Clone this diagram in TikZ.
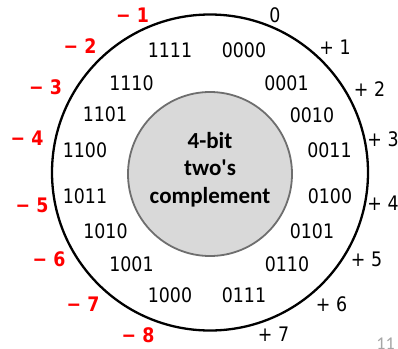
\documentclass[tikz,border=0pt]{standalone}
\usepackage{fontspec}
\setmainfont{Carlito}
\newfontfamily\numfont[FakeStretch=0.87]{DejaVu Sans}
\usetikzlibrary{positioning}
\definecolor{discgray}{HTML}{D9D9D9}
\definecolor{rimgray}{HTML}{6E6E6E}
\definecolor{pagegray}{HTML}{A6A6A6}

\begin{document}
\begin{tikzpicture}[
  x=1pt, y=-1pt,
  bits/.style={font=\numfont\fontsize{20}{24}\selectfont, inner sep=0pt},
  posval/.style={font=\numfont\fontsize{20}{24}\selectfont, inner sep=0pt},
  negval/.style={font=\numfont\bfseries\fontsize{20}{24}\selectfont,
                 text=red, inner sep=0pt},
]
\useasboundingbox (0,0) rectangle (398,348);

% outer ring
\node[circle, draw, line width=2.3pt, minimum size=316pt, inner sep=0pt]
  (ring) at (210,172.5) {};

% inner disc
\node[circle, draw=rimgray, fill=discgray, line width=1.8pt,
      minimum size=164pt, inner sep=0pt] (disc) at (210,174) {};
\node[align=center, font=\bfseries\fontsize{23}{27.5}\selectfont]
  (title) at (210,169.5) {4-bit\\two\textquotesingle s\\complement};

% bit patterns
\foreach \bits/\px/\py in {1111/170/50.5, 0000/244/50.5, 1110/131.5/83,
    0001/286.5/83, 1101/105/114, 0010/312/115, 1100/85/150, 0011/329.5/150,
    1011/85/196.5, 0100/330/196.5, 1010/105.5/231.5, 0101/312/231.5,
    1001/131.5/264, 0110/287/264, 1000/170/295.5, 0111/244/295.5}
  \node[bits] (b\bits) at (\px,\py) {\bits};

% values
\node[posval] (p0) at (275,15.5) {0};
\foreach \n/\px/\py in {1/335/47.5, 2/369.5/89.5, 3/383/139.5, 4/383/203.5,
    5/366.5/259.5, 6/331.5/304.5, 7/273.5/334.5}
  \node[posval] (p\n) at (\px,\py) {+ \n};
\foreach \n/\px/\py in {1/132.5/15.5, 2/80/46.5, 3/45.5/87.5, 4/27/138.5,
    5/32/205.5, 6/49/259.5, 7/83/304.5, 8/138/335.5}
  \node[negval] (m\n) at (\px,\py) {− \n};

% slide number
\node[font=\fontsize{18}{20}\selectfont, text=pagegray, anchor=base,
      inner sep=0pt] (page) at (385.5,349) {11};

\end{tikzpicture}
\end{document}
